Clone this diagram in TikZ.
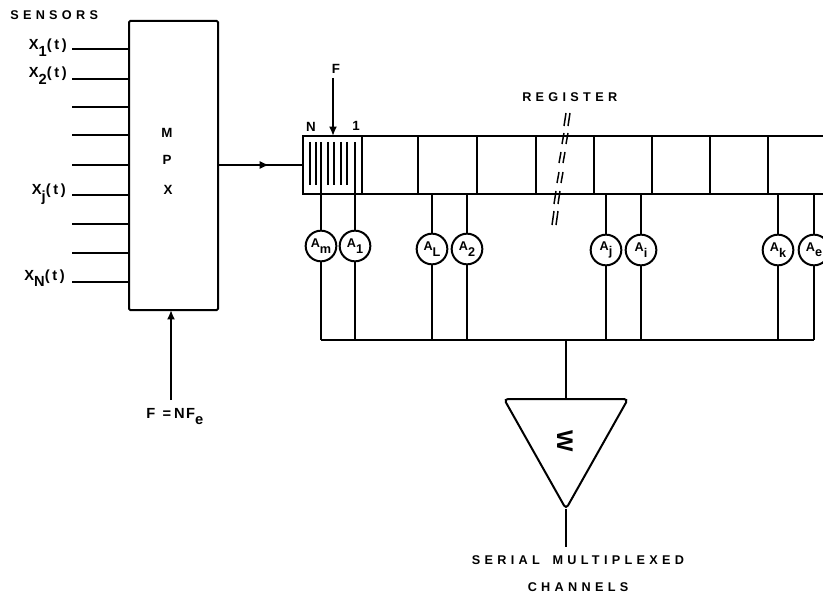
\documentclass[tikz,border=0pt]{standalone}
\usepackage{fontspec}
\setmainfont{Liberation Sans}
\usetikzlibrary{arrows.meta, positioning, shapes.geometric, decorations.markings}
\newcommand{\lowidx}[1]{\raisebox{-0.42em}{#1}}
\tikzset{
  x=0.75pt,
  y=-0.75pt,
  wire/.style={line width=1.1pt, draw=black},
  heavy/.style={line width=1.5pt, draw=black},
  thin wire/.style={line width=1.1pt, draw=black},
  mpxbox/.style={draw=black, line width=1.5pt, rounded corners=1pt, minimum width=66.75pt, minimum height=216.75pt, inner sep=0pt, outer sep=0pt},
  cellbox/.style={draw=black, line width=1.1pt, minimum height=43.5pt, inner sep=0pt, outer sep=0pt},
  gain/.style={draw=black, line width=1.5pt, circle, fill=white, minimum size=23pt, inner sep=0pt, font=\bfseries\fontsize{9.5}{10}\selectfont},
  amp/.style={draw=black, line width=1.5pt, isosceles triangle, isosceles triangle stretches, shape border rotate=-90, minimum height=82.5pt, minimum width=93pt, inner sep=0pt, outer sep=0pt, rounded corners=3pt},
  caption/.style={inner sep=0pt, font=\bfseries\fontsize{9.5}{10}\selectfont\addfontfeatures{LetterSpace=34}},
  sensor/.style={inner sep=0pt, font=\bfseries\fontsize{11}{11}\selectfont\addfontfeatures{LetterSpace=18}},
  letter/.style={inner sep=0pt, font=\bfseries\fontsize{10}{10}\selectfont},
  arrow/.style={-{Latex[length=7pt, width=6pt]}, line width=1.4pt, draw=black},
  midarrow/.style={thin wire, postaction={decorate}, decoration={markings, mark=at position 0.6 with {\arrow{Latex[length=7pt, width=6pt]}}}}
}
\begin{document}
\begin{tikzpicture}

\clip (0,0) rectangle (823,595);
\fill[white] (0,0) rectangle (823,595);

\node[caption, anchor=west] (sensors) at (10,15) {SENSORS};
\node[mpxbox] (mpx) at (173.5,165.5) {};
\node[letter] (mlabel) at (167,133) {M};
\node[letter] (plabel) at (167,160) {P};
\node[letter] (xlabel) at (168,190) {X};

% sensor inputs
\foreach \name/\ypos in {s1/49, s2/79, s3/107, s4/135, s5/165, s6/195, s7/224, s8/253, s9/282} {
  \coordinate (\name) at (72,\ypos);
  \draw[wire] (\name) -- (\name -| mpx.west);
}
\node[sensor, anchor=base east] (x1) at (67,50) {X\lowidx{1}(t)};
\node[sensor, anchor=base east] (x2) at (67,78) {X\lowidx{2}(t)};
\node[sensor, anchor=base east] (xj) at (66,195) {X\lowidx{j}(t)};
\node[sensor, anchor=base east] (xn) at (65,280) {X\lowidx{N}(t)};

% register cells
\foreach \n/\a/\b in {1/303/362, 2/362/418, 3/418/477, 4/477/536, 5/536/594, 6/594/652, 7/652/710, 8/710/768} {
  \node[cellbox, anchor=west, minimum width={(\b-\a)*0.75pt}] (cell\n) at (\a,165) {};
}
\coordinate (regtop) at (823,136);
\coordinate (regbot) at (823,194);
\draw[wire] (cell8.north east) -- (regtop);
\draw[wire] (cell8.south east) -- (regbot);
\draw[heavy] (cell1.north west) -- (cell1.south west);

% shift stages of the first cell
\foreach \x in {310,316,328,334,341,347} {
  \draw[wire] (\x,142) -- (\x,185);
}
\node[letter] (nlabel) at (311,127) {N};
\node[letter] (onelabel) at (356,126) {1};
\node[letter] (flabel) at (336,69) {F};
\coordinate (fstart) at (333,78);
\draw[arrow] (fstart) -- (fstart |- cell1.north);

\draw[midarrow] (mpx.east |- s5) -- (cell1.west);

% taps
\node[gain] (am) at (321,246) {A\lowidx{m}};
\node[gain] (aone) at (355,246) {A\lowidx{1}};
\node[gain] (al) at (432,249) {A\lowidx{L}};
\node[gain] (atwo) at (467,249) {A\lowidx{2}};
\node[gain] (aj) at (606,250) {A\lowidx{j}};
\node[gain] (ai) at (641,250) {A\lowidx{i}};
\node[gain] (ak) at (778,250) {A\lowidx{k}};
\node[gain] (ae) at (814,250) {A\lowidx{e}};
\coordinate (bus) at (321,340);
\draw[wire] (am |- bus) -- (ae |- bus);
\foreach \a in {am, aone, al, atwo, aj, ai, ak, ae} {
  \draw[heavy] (\a) -- (\a |- bus);
}
\foreach \a in {al, atwo, aj, ai, ak, ae} {
  \draw[heavy] (\a) -- (\a |- cell1.south);
}
\draw[heavy] (am) -- (am |- 0,142);
\draw[heavy] (aone) -- (aone |- 0,142);

% break marks
\foreach \xa/\ya/\xb/\yb in {568/113/566/126, 566/133/564/144, 563/152/561/163, 561/172/559/183, 558/191/556/204, 556/211/554/225} {
  \draw[wire] (\xa-2,\ya) -- (\xb-2,\yb);
  \draw[wire] (\xa+2,\ya) -- (\xb+2,\yb);
}
\node[caption, anchor=west] (register) at (522,97) {REGISTER};

% amplifier
\node[amp, anchor=apex] (sum) at (566,509) {};
\node[font=\bfseries\fontsize{17}{17}\selectfont, inner sep=0pt, rotate=-90] (wlabel) at (565,441) {W};
\draw[heavy] (sum.lower side |- bus) -- (sum.lower side);
\coordinate (serialout) at (566,547);
\draw[wire] (sum.apex) -- (serialout);
\node[caption] (serial) at (578,560) {SERIAL\hspace{1em}MULTIPLEXED};
\node[caption] (channels) at (578,587) {CHANNELS};

% clock
\node[sensor, anchor=base west] (clock) at (146,418) {F\hspace{0.5em}=\hspace{0.2em}N\hspace{0.1em}F\lowidx{e}};
\coordinate (clockstart) at (171,400);
\draw[arrow] (clockstart) -- (clockstart |- mpx.south);

\end{tikzpicture}
\end{document}
